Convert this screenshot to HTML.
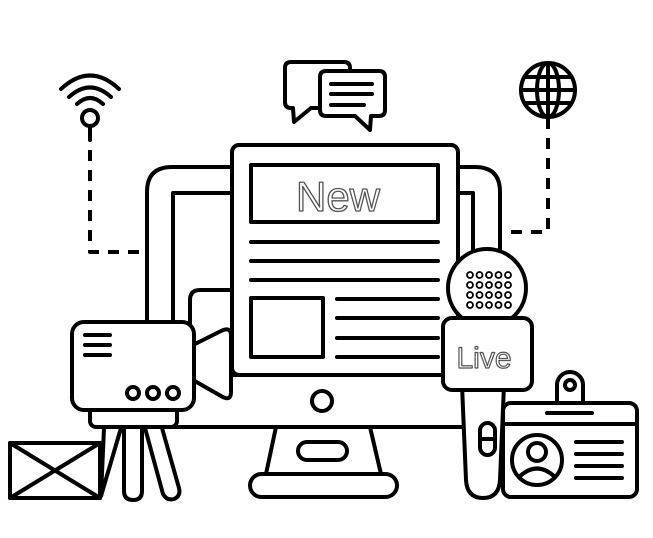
<!DOCTYPE html>
<html><head><meta charset="utf-8"><style>
html,body{margin:0;padding:0;background:#fff;}
svg{display:block;}
</style></head><body>
<svg width="653" height="538" viewBox="0 0 653 538" xmlns="http://www.w3.org/2000/svg" fill="none" stroke="#000" stroke-width="4" stroke-linecap="round" stroke-linejoin="round">
<rect width="653" height="538" fill="#fff" stroke="none"/>
<!-- wifi -->
<path d="M61 89 Q90 62 119 89"/>
<path d="M69 97 Q90 78 111 97"/>
<path d="M77 104 Q90 92 103 104"/>
<circle cx="90" cy="118" r="8"/>
<path d="M90 126 V140"/>
<path d="M90 150 V252 H147" stroke-dasharray="11 9" stroke-linecap="butt"/>
<!-- globe -->
<circle cx="548" cy="90" r="27"/>
<ellipse cx="548" cy="90" rx="11" ry="27"/>
<path d="M548 63 V117 M521 90 H575 M525 77 H571 M525 103 H571"/>
<path d="M548 118 V232 H500" stroke-dasharray="11 9" stroke-linecap="butt"/>
<!-- chat bubbles -->
<path d="M320 108 H311 L294 122 L293 108 H291 Q285 108 285 102 V68 Q285 62 291 62 H344 Q350 62 350 68 V71"/>
<path d="M326 71 H379 Q385 71 385 77 V110 Q385 116 379 116 H371 L370 130 L355 116 H326 Q320 116 320 110 V77 Q320 71 326 71 Z" fill="#fff"/>
<path d="M331 84 H372 M331 94 H372 M331 105 H364"/>
<!-- monitor back -->
<path d="M147 427 V192 Q147 167 172 167 H475 Q500 167 500 192 V427 Z" fill="#fff"/>
<path d="M173 427 V193 H473 V427"/>
<path d="M147 375 H500"/>
<circle cx="322" cy="401" r="10"/>
<!-- stand -->
<path d="M276 427 L266 474 M370 427 L381 474"/>
<rect x="250" y="474" width="147" height="23" rx="11.5" fill="#fff"/>
<rect x="298" y="442" width="49" height="18" rx="9"/>
<!-- camera back panel -->
<path d="M232 290 H200 Q190 290 190 300 V330"/>
<!-- front panel -->
<rect x="232" y="145" width="226" height="230" rx="7" fill="#fff"/>
<rect x="251" y="165" width="187" height="57"/>
<text x="338" y="211" font-family="Liberation Sans, sans-serif" font-size="42" text-anchor="middle" fill="#fff" stroke="#555" stroke-width="1.3">New</text>
<path d="M251 242 H438 M251 261 H438 M251 280 H438"/>
<rect x="251" y="298" width="72" height="59"/>
<path d="M337 299 H438 M337 318 H438 M337 338 H438 M337 357 H438"/>
<!-- camera -->
<path d="M193 345 L221 331 Q231 326 231 336 V392 Q231 402 221 396 L193 380 Z" fill="#fff"/>
<rect x="90" y="405" width="87" height="22" rx="6" fill="#fff"/>
<rect x="72" y="322" width="122" height="88" rx="12" fill="#fff"/>
<path d="M85 335 H110 M85 345 H110 M85 355 H110"/>
<circle cx="133" cy="393" r="6"/><circle cx="153" cy="393" r="6"/><circle cx="173" cy="393" r="6"/>
<!-- tripod -->
<path d="M104 428 L101 496 L121 428"/>
<path d="M124 428 V491 Q124 500 133 500 Q142 500 142 491 V428"/>
<path d="M145 428 L163 494 Q167 501 174 499 Q181 496 179 488 L162 428"/>
<!-- envelope -->
<rect x="10" y="443" width="90" height="55" fill="#fff"/>
<path d="M10 443 L100 498 M100 443 L10 498"/>
<!-- mic handle -->
<path d="M462 385 L466 480 Q467 498 483 498 Q499 498 500 480 L504 385" fill="#fff"/>
<rect x="480" y="423" width="15" height="32" rx="7.5"/>
<path d="M480 439 H495"/>
<!-- mic head -->
<circle cx="487" cy="288" r="39" fill="#fff"/>
<g stroke-width="1.8">
<circle cx="470" cy="275" r="3"/><circle cx="479.5" cy="275" r="3"/><circle cx="489" cy="275" r="3"/><circle cx="498.5" cy="275" r="3"/><circle cx="508" cy="275" r="3"/>
<circle cx="470" cy="285" r="3"/><circle cx="479.5" cy="285" r="3"/><circle cx="489" cy="285" r="3"/><circle cx="498.5" cy="285" r="3"/><circle cx="508" cy="285" r="3"/>
<circle cx="470" cy="295" r="3"/><circle cx="479.5" cy="295" r="3"/><circle cx="489" cy="295" r="3"/><circle cx="498.5" cy="295" r="3"/><circle cx="508" cy="295" r="3"/>
<circle cx="470" cy="305" r="3"/><circle cx="479.5" cy="305" r="3"/><circle cx="489" cy="305" r="3"/><circle cx="498.5" cy="305" r="3"/><circle cx="508" cy="305" r="3"/>
</g>
<rect x="443" y="318" width="89" height="72" rx="9" fill="#fff"/>
<text x="484" y="368" font-family="Liberation Sans, sans-serif" font-size="30" text-anchor="middle" fill="#fff" stroke="#555" stroke-width="1.2">Live</text>
<!-- ID card -->
<rect x="557" y="372" width="26" height="44" rx="13" fill="#fff"/>
<circle cx="570" cy="385" r="5"/>
<rect x="503" y="403" width="134" height="94" rx="8" fill="#fff"/>
<path d="M547 413 H592"/>
<path d="M503 424 H637"/>
<circle cx="537" cy="460" r="25"/>
<circle cx="537" cy="452" r="9"/>
<path d="M519 477 Q537 460 555 477"/>
<path d="M576 442 H622 M576 454 H622 M576 466 H622 M576 478 H622"/>
</svg>
</body></html>
